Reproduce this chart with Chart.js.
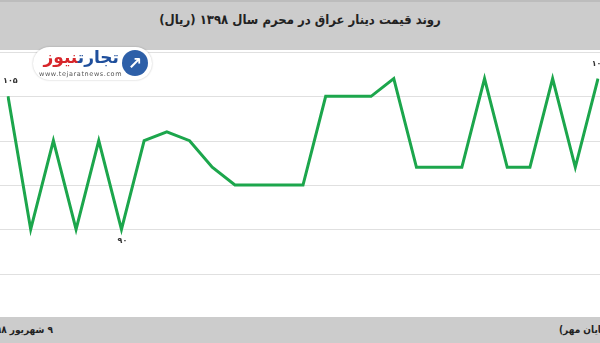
<!DOCTYPE html>
<html lang="fa">
<head>
<meta charset="utf-8">
<script src="https://cdn.jsdelivr.net/npm/chart.js@4/dist/chart.umd.min.js"></script>
<style>
  body { margin: 0; background: #fff; }
  #wrap { position: relative; width: 600px; height: 343px; overflow: hidden; font-family: 'DejaVu Sans', sans-serif; }
  #chartBox { position: absolute; left: 0; top: 0; width: 600px; height: 343px; }
  .band { position: absolute; left: 0; width: 600px; background: #cccccc; }
  #head { top: 0; height: 50px; border-top: 2px solid #bcbcbc; box-sizing: border-box; }
  #title { position: absolute; left: 0; width: 600px; top: 10px; text-align: center; direction: rtl; font-family: 'DejaVu Sans Condensed', 'DejaVu Sans', sans-serif; font-size: 13px; font-weight: bold; color: #222; }
  #foot { top: 317px; height: 26px; }
  .note { position: absolute; top: 7px; direction: rtl; font-family: 'DejaVu Sans Condensed', 'DejaVu Sans', sans-serif; font-size: 10px; font-weight: bold; color: #222; white-space: nowrap; }
  #logo { position: absolute; left: 33px; top: 47px; width: 119px; height: 33px; background: #fff; border-radius: 17px; box-shadow: 0 0 2px rgba(0,0,0,0.25); }
  #logoName { position: absolute; right: 33px; top: 0px; direction: rtl; font-size: 17px; font-weight: bold; white-space: nowrap; }
  #logoUrl { position: absolute; left: 6px; top: 23px; font-size: 6.5px; color: #555; letter-spacing: 0.6px; }
  #logoIcon { position: absolute; right: 4px; top: 3px; width: 26px; height: 26px; border-radius: 13px; background: #2d5fa8; color: #fff; font-size: 17px; line-height: 26px; text-align: center; font-weight: bold; }
</style>
</head>
<body>
<div id="wrap">
  <div id="chartBox"><canvas id="chart"></canvas></div>
  <div id="head" class="band"><div id="title">روند قیمت دینار عراق در محرم سال ۱۳۹۸ (ریال)</div></div>
  <div id="foot" class="band">
    <div class="note" style="right:547px;">۹ شهریور ۹۸ (</div>
    <div class="note" style="left:559px;">(پایان مهر)</div>
  </div>
  <div id="logo">
    <div id="logoName"><span style="color:#1f4f9c">تجارت</span><span style="color:#d7262b">نیوز</span></div>
    <div id="logoUrl">www.tejaratnews.com</div>
    <div id="logoIcon">&#8599;</div>
  </div>
</div>
<script>
// روزهای محرم
var days = ['1','2','3','4','5','6','7','8','9','10','11','12','13','14','15','16','17','18','19','20','21','22','23','24','25','26','27'];
// قیمت دینار (ریال)
var prices = [105, 90, 100, 90, 100, 90, 100, 101, 100, 97, 95, 95, 95, 95, 105, 105, 105, 107, 97, 97, 97, 107, 97, 97, 107, 97, 107];
// نقاطی که عددشان نوشته می شود
var labeledPoints = [0, 5, 26];

function toPersian(n){
    var digits = '۰۱۲۳۴۵۶۷۸۹';
    return String(n).replace(/[0-9]/g, function(d){ return digits[d]; });
}

// grid lines across the whole width, not only the chart area
var fullGrid = {
    id: 'fullGrid',
    beforeDatasetsDraw: function(chart){
        var ctx = chart.ctx;
        var y = chart.scales.y;
        ctx.save();
        ctx.strokeStyle = '#e0e0e0';
        ctx.lineWidth = 1;
        y.ticks.forEach(function(t){
            var py = Math.round(y.getPixelForValue(t.value)) + 0.5;
            ctx.beginPath();
            ctx.moveTo(0, py);
            ctx.lineTo(chart.width, py);
            ctx.stroke();
        });
        ctx.restore();
    }
};

var pointLabels = {
    id: 'pointLabels',
    afterDatasetsDraw: function(chart){
        var ctx = chart.ctx;
        var meta = chart.getDatasetMeta(0);
        ctx.save();
        ctx.font = 'bold 8px "DejaVu Sans"';
        ctx.fillStyle = '#333';
        ctx.textAlign = 'center';
        ctx.textBaseline = 'middle';
        labeledPoints.forEach(function(i){
            var p = meta.data[i];
            var v = prices[i];
            var text = toPersian(v);
            var half = ctx.measureText(text).width / 2;
            var x = Math.max(p.x + 1, half + 3);
            var below = (i > 0 && v < prices[i-1]) && (i < prices.length-1 && v < prices[i+1]);
            ctx.fillText(text, x, below ? p.y + 12 : p.y - 15);
        });
        ctx.restore();
    }
};

var ctx = document.getElementById('chart').getContext('2d');
var chart = new Chart(ctx, {
    type: 'line',
    data: {
        labels: days,
        datasets: [{
            data: prices,
            borderColor: '#1ca64c',
            borderWidth: 3,
            pointRadius: 0,
            fill: false,
            tension: 0
        }]
    },
    options: {
        responsive: true,
        maintainAspectRatio: false,
        animation: false,
        layout: { padding: { left: 8, right: 2, top: 52, bottom: 25 } },
        plugins: { legend: { display: false }, tooltip: { enabled: false } },
        scales: {
            x: { display: false },
            y: {
                display: false,
                min: 80, max: 110,
                ticks: { stepSize: 5 }
            }
        }
    },
    plugins: [fullGrid, pointLabels]
});
</script>
</body>
</html>
